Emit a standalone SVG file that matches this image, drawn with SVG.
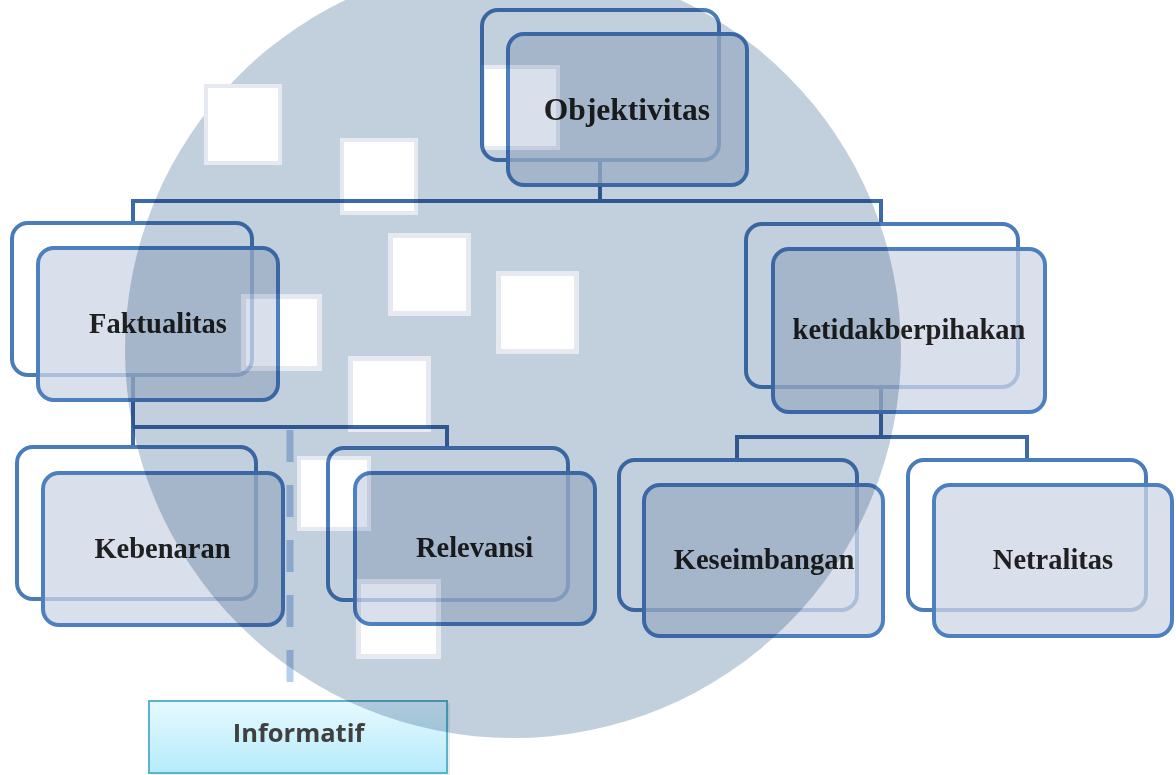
<svg xmlns="http://www.w3.org/2000/svg" width="1176" height="775" viewBox="0 0 1176 775">
  <defs>
    <linearGradient id="infoGrad" x1="0" y1="0" x2="0" y2="1">
      <stop offset="0" stop-color="#e6f9fe"/>
      <stop offset="1" stop-color="#b6ebfb"/>
    </linearGradient>
    <style>
      .back { fill: #ffffff; stroke: #4a7cba; stroke-width: 4; }
      .front { fill: #ccd5e6; fill-opacity: 0.75; stroke: #4d80bf; stroke-width: 4; }
      .lbl { font-family: "Liberation Serif", "Times New Roman", serif; font-weight: bold; font-size: 28.5px; fill: #202020; text-anchor: middle; }
      .conn { fill: none; stroke: #3c6aa6; stroke-width: 4; stroke-linejoin: miter; }
      .dash { fill: none; stroke: #b5cfec; stroke-width: 7; stroke-dasharray: 32 23; }
      .sqo { fill: #e6eaf0; }
      .sqi { fill: #ffffff; }
    </style>
  </defs>

  <rect x="0" y="0" width="1176" height="775" fill="#ffffff"/>

  <g id="connectors">
    <path class="conn" d="M600 160 V201 M133 222 V201 H881 V223"/>
    <path class="conn" d="M133 375 V427 M133 446 V427 H447 V447"/>
    <path class="conn" d="M881 387 V437 M737 459 V437 H1027 V459"/>
    <line class="dash" x1="290" y1="430" x2="290" y2="686"/>
  </g>

  <g id="node-objektivitas">
    <rect class="back" x="482" y="10" width="237" height="150" rx="16"/>
    <rect class="front" x="508" y="34" width="239" height="151" rx="16"/>
    <text class="lbl" x="627" y="120" style="font-size:31.5px">Objektivitas</text>
  </g>

  <g id="node-faktualitas">
    <rect class="back" x="12" y="223" width="240" height="152" rx="16"/>
    <rect class="front" x="38" y="248" width="240" height="152" rx="16"/>
    <text class="lbl" x="158" y="333">Faktualitas</text>
  </g>

  <g id="node-ketidakberpihakan">
    <rect class="back" x="746" y="224" width="272" height="163" rx="16"/>
    <rect class="front" x="773" y="249" width="272" height="163" rx="16"/>
    <text class="lbl" x="909" y="339">ketidakberpihakan</text>
  </g>

  <g id="node-kebenaran">
    <rect class="back" x="17" y="447" width="239" height="152" rx="16"/>
    <rect class="front" x="43" y="473" width="240" height="152" rx="16"/>
    <text class="lbl" x="162.5" y="558">Kebenaran</text>
  </g>

  <g id="node-relevansi">
    <rect class="back" x="328" y="448" width="240" height="152" rx="16"/>
    <rect class="front" x="355" y="473" width="240" height="151" rx="16"/>
    <text class="lbl" x="474.5" y="557">Relevansi</text>
  </g>

  <g id="node-keseimbangan">
    <rect class="back" x="619" y="460" width="238" height="150" rx="16"/>
    <rect class="front" x="644" y="485" width="239" height="151" rx="16"/>
    <text class="lbl" x="764" y="569">Keseimbangan</text>
  </g>

  <g id="node-netralitas">
    <rect class="back" x="908" y="460" width="238" height="150" rx="16"/>
    <rect class="front" x="934" y="485" width="238" height="151" rx="16"/>
    <text class="lbl" x="1053" y="569">Netralitas</text>
  </g>

  <g id="node-informatif">
    <rect x="151" y="703" width="299" height="73" fill="#000000" fill-opacity="0.07"/>
    <rect x="149" y="701" width="298" height="72" fill="url(#infoGrad)" stroke="#5ab4cd" stroke-width="2"/>
    <text x="298.5" y="742" font-family="'Open Sans', 'Noto Sans', sans-serif" font-weight="bold" font-size="25.5px" fill="#404040" text-anchor="middle">Informatif</text>
  </g>

  <g id="watermark" style="mix-blend-mode: multiply;">
    <circle cx="513" cy="350" r="388" fill="#c2cfdc"/>
    <rect class="sqo" x="204" y="84" width="78" height="81"/>
    <rect class="sqi" x="208" y="88" width="70" height="73"/>
    <rect class="sqo" x="481" y="65" width="79" height="85"/>
    <rect class="sqi" x="485" y="69" width="71" height="77"/>
    <rect class="sqo" x="340" y="138" width="78" height="77"/>
    <rect class="sqi" x="344" y="142" width="70" height="69"/>
    <rect class="sqo" x="388" y="233" width="83" height="83"/>
    <rect class="sqi" x="393" y="238" width="73" height="73"/>
    <rect class="sqo" x="496" y="271" width="83" height="83"/>
    <rect class="sqi" x="501" y="276" width="73" height="73"/>
    <rect class="sqo" x="241" y="294" width="81" height="77"/>
    <rect class="sqi" x="246" y="299" width="71" height="67"/>
    <rect class="sqo" x="348" y="356" width="83" height="76"/>
    <rect class="sqi" x="353" y="361" width="73" height="66"/>
    <rect class="sqo" x="297" y="456" width="74" height="75"/>
    <rect class="sqi" x="301" y="460" width="66" height="67"/>
    <rect class="sqo" x="356" y="579" width="85" height="80"/>
    <rect class="sqi" x="361" y="584" width="75" height="70"/>
  </g>
</svg>
